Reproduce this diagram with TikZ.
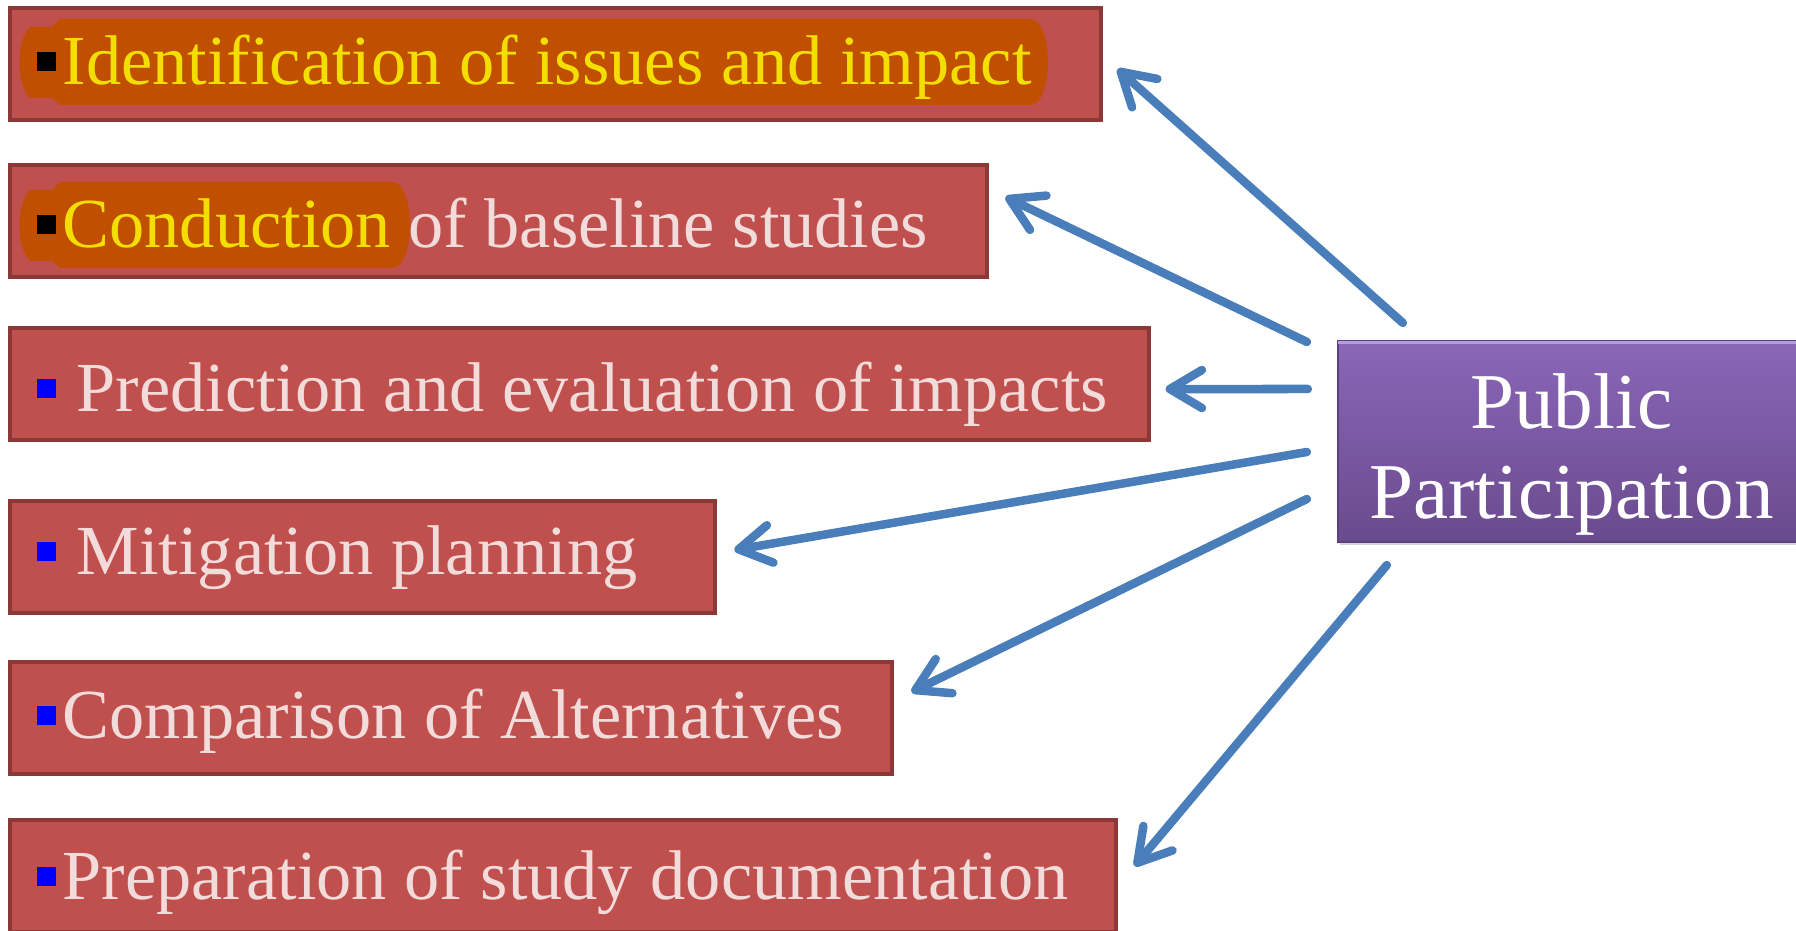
\documentclass[tikz,border=0pt]{standalone}
\usepackage{fontspec}
\setmainfont{Liberation Serif}
\usetikzlibrary{arrows.meta,calc,shadows}

\definecolor{boxfill}{HTML}{C0504D}
\definecolor{boxline}{HTML}{8C3836}
\definecolor{hiback}{HTML}{C04F00}
\definecolor{hitext}{HTML}{F2DE00}
\definecolor{bodytext}{HTML}{F2DCDB}
\definecolor{linkblue}{HTML}{4A7EBB}
\definecolor{hubtop}{HTML}{8A67B8}
\definecolor{hubbot}{HTML}{6A4A8E}
\definecolor{hubline}{HTML}{5E4080}
\definecolor{hubglow}{HTML}{B59BE0}

\newcommand{\bul}[2]{\textcolor{#1}{\rule[0.14cm]{#2}{#2}}}
% #1 top, #2 bottom, #3 right end of the highlight band
\newcommand{\hiband}[3]{%
  \fill[hiback] (60,#1) -- ({#3-18},#1) .. controls ({#3+6},#1) and ({#3+6},#2) .. ({#3-18},#2)
    -- (60,#2) -- (52,{#2-7}) -- (30,{#2-7}) .. controls (16,{#2-20}) and (16,{#1+21}) .. (30,{#1+8})
    -- (52,{#1+8}) -- cycle;}

\tikzset{
  topicbox/.style={draw=boxline, fill=boxfill, line width=0.04cm, anchor=north west,
    outer sep=0pt, minimum height=1.12cm},
  topictext/.style={anchor=base west, inner sep=0pt, text=bodytext, font=\fontsize{20}{24}\selectfont},
  hub/.style={draw=hubline, line width=0.02cm, top color=hubtop, bottom color=hubbot,
    outer sep=0pt, inner ysep=0pt, minimum width=4.67cm, minimum height=2.01cm, align=center,
    text=white, font=\fontsize{22.5}{25.6}\selectfont,
    drop shadow={shadow xshift=0.02cm, shadow yshift=-0.03cm, opacity=0.35}},
  link/.style={draw=linkblue, line width=0.085cm, line cap=round,
    -{Straight Barb[round, length=0.32cm, width=0.38cm]}}
}

\begin{document}
\begin{tikzpicture}[x=0.01cm, y=-0.01cm]
  \useasboundingbox (0,0) rectangle (1796,931);
  \clip (0,0) rectangle (1796,931);

  \node[topicbox, minimum width=10.90cm] (b1) at (10,8) {};
  \node[topicbox, minimum width=9.76cm] (b2) at (10,165) {};
  \node[topicbox, minimum width=11.38cm] (b3) at (10,328) {};
  \node[topicbox, minimum width=7.05cm] (b4) at (10,501) {};
  \node[topicbox, minimum width=8.81cm] (b5) at (10,662) {};
  \node[topicbox, minimum width=11.05cm] (b6) at (10,820) {};

  \hiband{19}{105}{1048}
  \hiband{182}{268}{410}

  \node[topictext, text=hitext] (t1) at (36,85) {\bul{black}{0.19cm}\hspace{0.07cm}Identification of issues and impact};
  \node[topictext] (t2) at (36,248) {\bul{black}{0.19cm}\hspace{0.07cm}\textcolor{hitext}{Conduction} of baseline studies};
  \node[topictext] (t3) at (36,412) {\bul{blue}{0.19cm}\hspace{0.21cm}Prediction and evaluation of impacts};
  \node[topictext] (t4) at (36,575) {\bul{blue}{0.19cm}\hspace{0.21cm}Mitigation planning};
  \node[topictext] (t5) at (36,739) {\bul{blue}{0.19cm}\hspace{0.07cm}Comparison of Alternatives};
  \node[topictext] (t6) at (36,900) {\bul{blue}{0.19cm}\hspace{0.07cm}Preparation of study documentation};

  \node[hub] (hub) at (1571.5,441.5) {\rule{0pt}{0.8cm}Public\\Participation};
  \draw[hubglow, line width=0.03cm] ([yshift=-0.02cm]hub.north west) -- ([yshift=-0.02cm]hub.north east);

  \draw[link] ($(hub.north west)+(65,-18)$) -- ($(b1.east)+(17,5)$);
  \draw[link] ($(hub.north west)+(-31,1)$) -- ($(b2.east)+(19,-24)$);
  \draw[link] ($(hub.west)+(-30,-52.5)$) -- ($(b3.east)+(17,5)$);
  \draw[link] ($(hub.west)+(-31,10.5)$) -- ($(b4.east)+(19,-7)$);
  \draw[link] ($(hub.west)+(-31,57.5)$) -- ($(b5.east)+(20,-26)$);
  \draw[link] ($(hub.south west)+(49,23)$) -- ($(b6.east)+(19,-10)$);
\end{tikzpicture}
\end{document}
